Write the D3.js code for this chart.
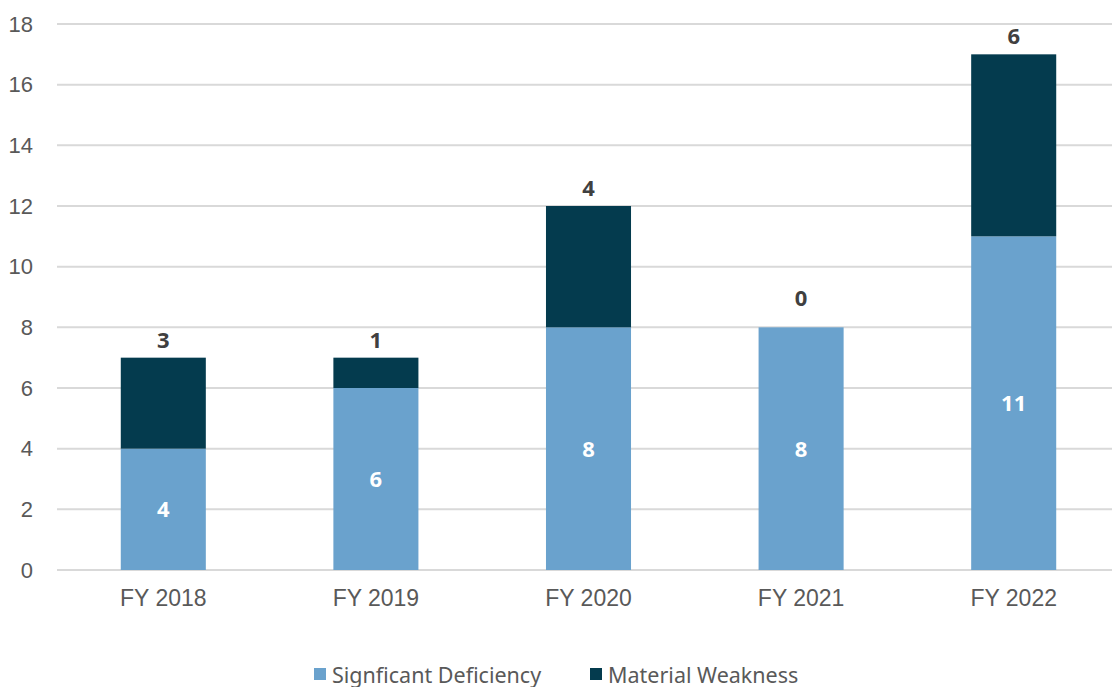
<!DOCTYPE html>
<html>
<head>
<meta charset="utf-8">
<script src="https://cdn.jsdelivr.net/npm/d3@7"></script>
<style>
  body { margin: 0; background: #fff; }
  svg { display: block; font-family: "Noto Sans", sans-serif; }
  .grid line { stroke: #d9d9d9; stroke-width: 2; }
  .tick text { fill: #595959; font-size: 22px; }
  .xaxis .tick text { font-size: 23px; }
</style>
</head>
<body>
<svg id="chart" width="1112" height="687"></svg>
<script>
var years = ["FY 2018", "FY 2019", "FY 2020", "FY 2021", "FY 2022"];
var significant = [4, 6, 8, 8, 11];
var material = [3, 1, 4, 0, 6];
var yTicks = [0, 2, 4, 6, 8, 10, 12, 14, 16, 18];
var seriesNames = ["Signficant Deficiency", "Material Weakness"];
var colors = ["#6aa2cd", "#043b4e"];

(function() {
  var svg = d3.select("#chart");
  var left = 57, right = 1120, top = 24, bottom = 570;

  var x = d3.scaleBand()
    .domain(years)
    .range([left, right])
    .paddingInner(0.6)
    .paddingOuter(0.3);

  var y = d3.scaleLinear()
    .domain([0, 18])
    .range([bottom, top]);

  // gridlines
  svg.append("g")
    .attr("class", "grid")
    .selectAll("line")
    .data(yTicks)
    .enter().append("line")
      .attr("x1", left)
      .attr("x2", right)
      .attr("y1", d => y(d))
      .attr("y2", d => y(d));

  // y labels
  svg.append("g")
    .attr("transform", "translate(" + (left - 10) + ",0)")
    .call(d3.axisLeft(y).tickValues(yTicks).tickSize(0).tickPadding(14))
    .call(g => g.select(".domain").remove());

  var rows = years.map((yr, i) => ({ yr: yr, s: significant[i], m: material[i] }));

  svg.append("g").selectAll("rect")
    .data(rows)
    .enter().append("rect")
      .attr("x", d => x(d.yr))
      .attr("width", x.bandwidth())
      .attr("y", d => y(d.s))
      .attr("height", d => y(0) - y(d.s))
      .attr("fill", colors[0]);

  svg.append("g").selectAll("rect")
    .data(rows.filter(d => d.m > 0))
    .enter().append("rect")
      .attr("x", d => x(d.yr))
      .attr("width", x.bandwidth())
      .attr("y", d => y(d.s + d.m))
      .attr("height", d => y(d.s) - y(d.s + d.m))
      .attr("fill", colors[1]);

  // value labels
  svg.append("g").selectAll("text")
    .data(rows)
    .enter().append("text")
      .attr("x", d => x(d.yr) + x.bandwidth() / 2)
      .attr("y", d => (y(d.s) + y(0)) / 2 + 8)
      .attr("text-anchor", "middle")
      .attr("fill", "#fff")
      .attr("font-weight", "bold")
      .attr("font-size", "22px")
      .text(d => d.s);

  // zero-height segments sit a bit higher, like the original
  svg.append("g").selectAll("text")
    .data(rows)
    .enter().append("text")
      .attr("x", d => x(d.yr) + x.bandwidth() / 2)
      .attr("y", d => y(d.s + d.m) - (d.m === 0 ? 21 : 10))
      .attr("text-anchor", "middle")
      .attr("fill", "#404040")
      .attr("font-weight", "bold")
      .attr("font-size", "22px")
      .text(d => d.m);

  // x labels
  svg.append("g")
    .attr("class", "xaxis")
    .attr("transform", "translate(0," + bottom + ")")
    .call(d3.axisBottom(x).tickSize(0).tickPadding(20))
    .call(g => g.select(".domain").remove());

  // legend
  var legendX = [314, 590];
  var legend = svg.append("g").selectAll("g")
    .data(seriesNames)
    .enter().append("g")
      .attr("transform", (d, i) => "translate(" + legendX[i] + ",668)");

  legend.append("rect")
    .attr("width", 12)
    .attr("height", 12)
    .attr("fill", (d, i) => colors[i]);

  legend.append("text")
    .attr("x", 18)
    .attr("y", 15)
    .attr("fill", "#595959")
    .attr("font-size", "21.5px")
    .text(d => d);
})();
</script>
</body>
</html>
